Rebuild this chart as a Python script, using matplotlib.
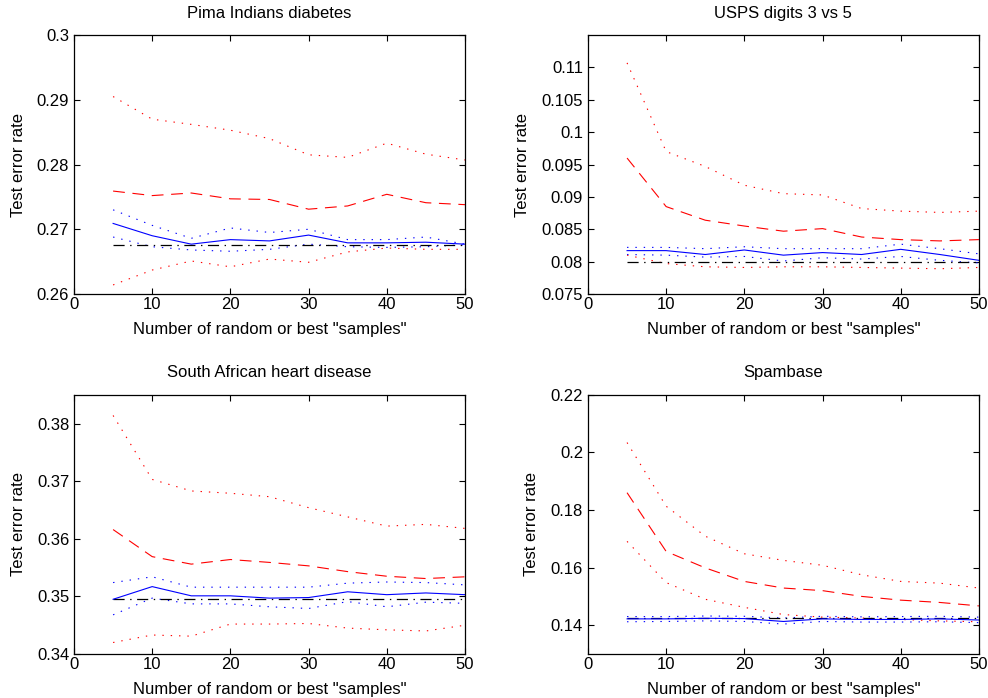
import numpy as np
import matplotlib
matplotlib.use("Agg")
import matplotlib.pyplot as plt
from matplotlib.ticker import FuncFormatter

plt.rcParams['font.family'] = ['Liberation Sans', 'DejaVu Sans']
plt.rcParams['font.size'] = 12
plt.rcParams['lines.scale_dashes'] = False

n_samples = [5, 10, 15, 20, 25, 30, 35, 40, 45, 50]

# Pima Indians diabetes
pima_rand_hi = [0.2905, 0.2870, 0.2862, 0.2853, 0.2840, 0.2815, 0.2811, 0.2833, 0.2816, 0.2807]
pima_rand_mean = [0.2759, 0.2752, 0.2756, 0.2747, 0.2746, 0.2731, 0.2736, 0.2754, 0.2741, 0.2738]
pima_rand_lo = [0.2614, 0.2637, 0.2651, 0.2642, 0.2654, 0.2649, 0.2665, 0.2671, 0.2669, 0.2669]
pima_best_hi = [0.2730, 0.2706, 0.2686, 0.2702, 0.2695, 0.2700, 0.2684, 0.2684, 0.2688, 0.2677]
pima_best_mean = [0.2709, 0.2690, 0.2677, 0.2684, 0.2682, 0.2691, 0.2679, 0.2679, 0.2680, 0.2677]
pima_best_lo = [0.2688, 0.2673, 0.2668, 0.2666, 0.2669, 0.2677, 0.2673, 0.2672, 0.2673, 0.2676]
pima_full = 0.2676

# USPS digits 3 vs 5
usps_rand_hi = [0.1107, 0.0970, 0.0947, 0.0918, 0.0905, 0.0903, 0.0882, 0.0878, 0.0876, 0.0878]
usps_rand_mean = [0.0960, 0.0885, 0.0864, 0.0855, 0.0847, 0.0851, 0.0838, 0.0834, 0.0832, 0.0834]
usps_rand_lo = [0.0810, 0.0797, 0.0792, 0.0791, 0.0792, 0.0792, 0.0791, 0.0790, 0.0789, 0.0791]
usps_best_hi = [0.0822, 0.0822, 0.0820, 0.0823, 0.0820, 0.0820, 0.0820, 0.0827, 0.0820, 0.0812]
usps_best_mean = [0.0817, 0.0817, 0.0811, 0.0818, 0.0810, 0.0814, 0.0811, 0.0819, 0.0811, 0.0802]
usps_best_lo = [0.0811, 0.0810, 0.0807, 0.0808, 0.0801, 0.0806, 0.0804, 0.0808, 0.0802, 0.0798]
usps_full = 0.0800

# South African heart disease
heart_rand_hi = [0.3814, 0.3703, 0.3683, 0.3679, 0.3673, 0.3654, 0.3638, 0.3622, 0.3625, 0.3618]
heart_rand_mean = [0.3616, 0.3569, 0.3556, 0.3564, 0.3559, 0.3553, 0.3543, 0.3535, 0.3531, 0.3534]
heart_rand_lo = [0.3420, 0.3433, 0.3431, 0.3452, 0.3452, 0.3453, 0.3445, 0.3442, 0.3440, 0.3450]
heart_best_hi = [0.3524, 0.3534, 0.3516, 0.3516, 0.3516, 0.3516, 0.3523, 0.3525, 0.3524, 0.3520]
heart_best_mean = [0.3495, 0.3517, 0.3501, 0.3501, 0.3497, 0.3498, 0.3508, 0.3503, 0.3506, 0.3503]
heart_best_lo = [0.3468, 0.3497, 0.3487, 0.3487, 0.3482, 0.3479, 0.3491, 0.3482, 0.3490, 0.3488]
heart_full = 0.3495

# Spambase
spam_rand_hi = [0.2034, 0.1813, 0.1709, 0.1648, 0.1625, 0.1608, 0.1575, 0.1552, 0.1546, 0.1529]
spam_rand_mean = [0.1860, 0.1656, 0.1599, 0.1552, 0.1529, 0.1520, 0.1500, 0.1487, 0.1479, 0.1467]
spam_rand_lo = [0.1691, 0.1548, 0.1490, 0.1462, 0.1437, 0.1428, 0.1425, 0.1420, 0.1415, 0.1412]
spam_best_hi = [0.1430, 0.1430, 0.1432, 0.1431, 0.1425, 0.1431, 0.1429, 0.1430, 0.1431, 0.1428]
spam_best_mean = [0.1422, 0.1422, 0.1424, 0.1423, 0.1413, 0.1422, 0.1420, 0.1420, 0.1422, 0.1418]
spam_best_lo = [0.1412, 0.1413, 0.1415, 0.1413, 0.1404, 0.1413, 0.1411, 0.1411, 0.1412, 0.1409]
spam_full = 0.1425

panels = [
    ("Pima Indians diabetes", pima_rand_hi, pima_rand_mean, pima_rand_lo,
     pima_best_hi, pima_best_mean, pima_best_lo, pima_full,
     (0.26, 0.30), np.arange(0.26, 0.3001, 0.01)),
    ("USPS digits 3 vs 5", usps_rand_hi, usps_rand_mean, usps_rand_lo,
     usps_best_hi, usps_best_mean, usps_best_lo, usps_full,
     (0.075, 0.115), np.arange(0.075, 0.1101, 0.005)),
    ("South African heart disease", heart_rand_hi, heart_rand_mean, heart_rand_lo,
     heart_best_hi, heart_best_mean, heart_best_lo, heart_full,
     (0.34, 0.385), np.arange(0.34, 0.3801, 0.01)),
    ("Spambase", spam_rand_hi, spam_rand_mean, spam_rand_lo,
     spam_best_hi, spam_best_mean, spam_best_lo, spam_full,
     (0.13, 0.22), np.arange(0.14, 0.2201, 0.02)),
]

# axes boxes in figure fractions (left, bottom, width, height)
boxes = [
    (0.0749, 0.5788, 0.3957, 0.3710),
    (0.5951, 0.5788, 0.3957, 0.3710),
    (0.0749, 0.0630, 0.3957, 0.3715),
    (0.5951, 0.0630, 0.3957, 0.3715),
]

fig = plt.figure(figsize=(9.88, 6.98), dpi=100)
fmt = FuncFormatter(lambda v, p: "%g" % round(v, 4))

for box, (title, r_hi, r_mean, r_lo, b_hi, b_mean, b_lo, full, ylim, yticks) in zip(boxes, panels):
    ax = fig.add_axes(box)
    dot = dict(linestyle=(0, (1, 5)), lw=0.8)
    ax.plot(n_samples, r_hi, color='red', **dot)
    ax.plot(n_samples, r_lo, color='red', **dot)
    ax.plot(n_samples, r_mean, color='red', lw=0.8, linestyle=(0, (8.5, 5.5)))
    ax.plot(n_samples, b_hi, color='blue', **dot)
    ax.plot(n_samples, b_lo, color='blue', **dot)
    ax.plot([n_samples[0], n_samples[-1]], [full, full], color='black', lw=0.9,
            linestyle=(0, (8, 4, 1, 4)))
    ax.plot(n_samples, b_mean, color='blue', lw=0.8)

    ax.set_xlim(0, 50)
    ax.set_ylim(*ylim)
    ax.set_xticks(range(0, 51, 10))
    ax.set_yticks(yticks)
    ax.yaxis.set_major_formatter(fmt)
    ax.tick_params(direction='in', top=True, right=True, length=4, width=0.8,
                   labelsize=12)
    ax.tick_params(axis='x', pad=2.5)
    ax.tick_params(axis='y', pad=3.5)
    for s in ax.spines.values():
        s.set_linewidth(0.9)
    ax.set_title(title, fontsize=12, pad=12.5)
    ax.set_xlabel('Number of random or best "samples"', fontsize=12, labelpad=7)
    ax.set_ylabel('Test error rate', fontsize=12, labelpad=8)

fig.savefig("out.png", dpi=100)
